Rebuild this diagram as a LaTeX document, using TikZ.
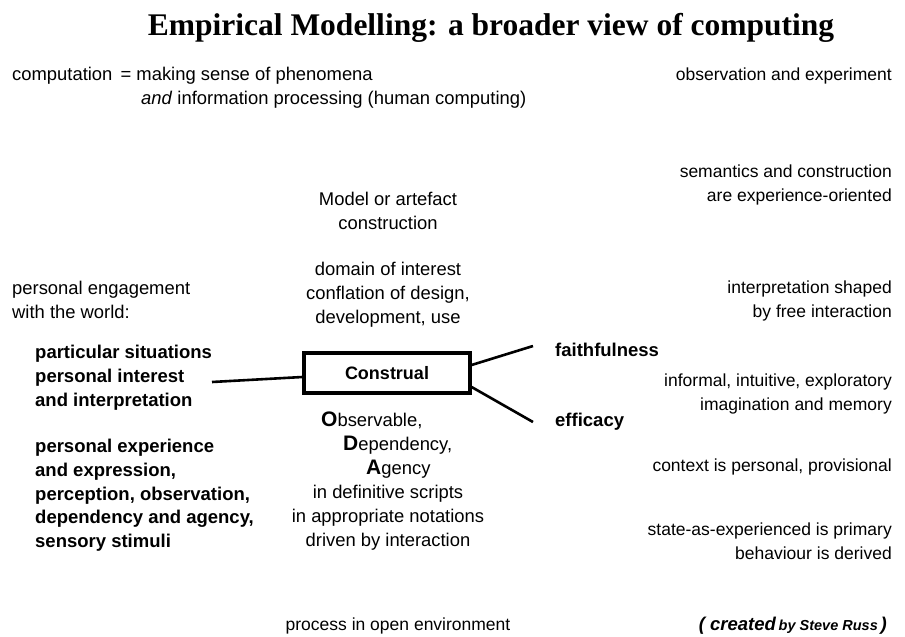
\documentclass[tikz,border=0pt]{standalone}
\usepackage{fontspec}
\setmainfont{Liberation Sans}
\newfontfamily\titlefont{Liberation Serif}
\begin{document}
\begin{tikzpicture}[x=1pt,y=-1pt,
  txt/.style={inner sep=0pt,font=\fontsize{17.5}{24}\selectfont},
  txtb/.style={inner sep=0pt,font=\fontsize{18.4}{24}\selectfont},
  bld/.style={inner sep=0pt,font=\fontsize{18.5}{23.7}\selectfont\bfseries},
  link/.style={line width=2.6pt},
  box/.style={draw,line width=3.2pt,minimum width=166pt,minimum height=40pt,inner sep=0pt,font=\fontsize{18}{22}\selectfont\bfseries}]
\useasboundingbox (0,0) rectangle (905,637);
\node[inner sep=0pt,font=\titlefont\fontsize{31.5}{34}\selectfont\bfseries,anchor=base] (title) at (491,35) {Empirical Modelling: a broader view of computing};
\node[txtb,anchor=base west] (comp1) at (12,80) {computation \,= making sense of phenomena};
\node[txtb,anchor=base west] (comp2) at (141,104) {\textit{and} information processing (human computing)};
\node[txt,anchor=north east,align=right] (obs) at (892,68) {observation and experiment};
\node[txt,anchor=north east,align=right] (sem) at (892,165) {semantics and construction\\are experience-oriented};
\node[txtb,anchor=north,align=center] (model) at (388,192) {Model or artefact\\construction};
\node[txtb,anchor=north,align=center] (domain) at (388,262) {domain of interest\\conflation of design,\\development, use};
\node[txtb,anchor=north west,align=left] (pers) at (12,281) {personal engagement\\with the world:};
\node[txt,anchor=north east,align=right] (interp) at (892,281) {interpretation shaped\\by free interaction};
\node[bld,anchor=north west,align=left] (part) at (35,345) {particular situations\\personal interest\\and interpretation};
\node[box] (construal) at (387,373) {Construal};
\node[bld,anchor=base west] (faith) at (555,356) {faithfulness};
\node[bld,anchor=base west] (eff) at (555,426) {efficacy};
\node[txt,anchor=north east,align=right] (informal) at (892,374) {informal, intuitive, exploratory\\imagination and memory};
\node[bld,anchor=north west,align=left] (exper) at (35,439) {personal experience\\and expression,\\perception, observation,\\dependency and agency,\\sensory stimuli};
\node[txtb,anchor=base west] (obsv) at (321,426) {{\fontsize{21}{21}\selectfont\bfseries O}bservable,};
\node[txtb,anchor=base west] (dep) at (343,450) {{\fontsize{21}{21}\selectfont\bfseries D}ependency,};
\node[txtb,anchor=base west] (ag) at (366,474) {{\fontsize{21}{21}\selectfont\bfseries A}gency};
\node[txtb,anchor=north,align=center] (defin) at (388,485) {in definitive scripts\\in appropriate notations\\driven by interaction};
\node[txt,anchor=base east] (context) at (892,471) {context is personal, provisional};
\node[txt,anchor=north east,align=right] (state) at (892,523) {state-as-experienced is primary\\behaviour is derived};
\node[txt,anchor=base] (process) at (398,630) {process in open environment};
\node[inner sep=0pt,anchor=base east,font=\bfseries\itshape] (credit) at (887,630) {{\fontsize{18.5}{18}\selectfont ( created} {\fontsize{14.5}{14}\selectfont by Steve Russ} {\fontsize{18.5}{18}\selectfont )}};
\coordinate (lft) at (212,382);
\coordinate (fa) at (533,346);
\coordinate (ef) at (533,422);
\draw[link] (lft) -- ([yshift=-4pt]construal.west);
\draw[link] ([yshift=8pt]construal.east) -- (fa);
\draw[link] ([yshift=-14pt]construal.east) -- (ef);
\end{tikzpicture}
\end{document}
